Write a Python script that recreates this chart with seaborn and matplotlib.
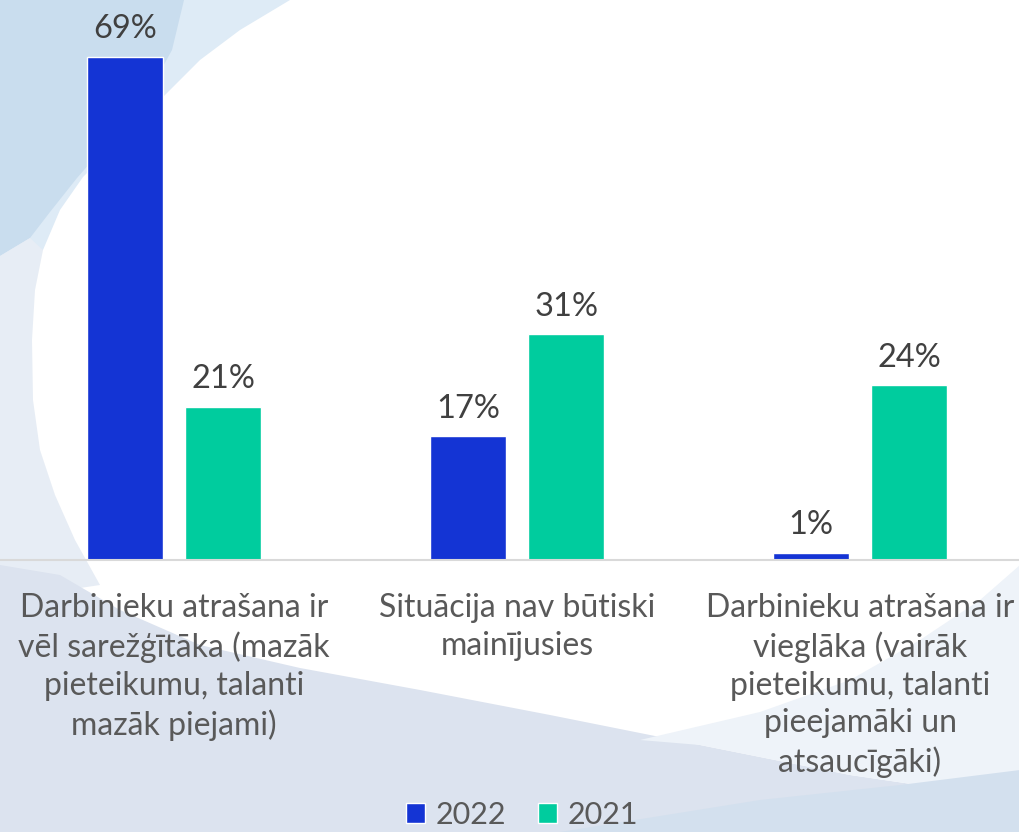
import pandas as pd
import matplotlib.pyplot as plt
import seaborn as sns
from matplotlib.patches import Polygon

# ---- data ----
categories = [
    "Darbinieku atrašana ir\nvēl sarežģītāka (mazāk\npieteikumu, talanti\nmazāk piejami)",
    "Situācija nav būtiski\nmainījusies",
    "Darbinieku atrašana ir\nvieglāka (vairāk\npieteikumu, talanti\npieejamāki un\natsaucīgāki)",
]
years = ["2022", "2021"]
values_2022 = [69, 17, 1]
values_2021 = [21, 31, 24]

colors = {"2022": "#1434D4", "2021": "#00CC9E"}
W, H = 1020, 832

df = pd.DataFrame({
    "Kategorija": categories * 2,
    "Gads": [years[0]] * 3 + [years[1]] * 3,
    "Vertiba": values_2022 + values_2021,
})

sns.set_style("white")
plt.rcParams["font.family"] = ["Lato", "DejaVu Sans"]

fig = plt.figure(figsize=(W / 100, H / 100), dpi=100)
fig.patch.set_facecolor("white")


def px(points):
    # pixel coords (top-left origin) -> figure fraction
    return [(x / W, 1 - y / H) for x, y in points]


# decorative background swooshes (pixel coords)
bg_shapes = [
    # pale band at the top left
    ("#DEEBF6", [(0, 0), (290, 0), (240, 30), (200, 60), (165, 95), (130, 130), (100, 160),
                 (83, 177), (60, 210), (43, 250), (0, 260)]),
    # darker top-left corner
    ("#C9DDEE", [(0, 0), (184, 0), (172, 50), (150, 90), (112, 138), (77, 178),
                 (50, 212), (30, 238), (0, 256)]),
    # grey-blue crescent on the left edge
    ("#E7EDF5", [(0, 256), (30, 238), (43, 250), (35, 290), (32, 340), (33, 400),
                 (40, 450), (55, 495), (75, 540), (100, 585), (0, 600)]),
    # lower band
    ("#DCE3EF", [(0, 565), (60, 575), (120, 610), (200, 645), (300, 668), (420, 690),
                 (550, 715), (700, 745), (850, 775), (1020, 800), (1020, 832), (0, 832)]),
    # pale sweep at the lower right
    ("#EEF3F9", [(640, 740), (760, 712), (850, 680), (920, 640), (980, 600), (1020, 565),
                 (1020, 800), (850, 775), (700, 745)]),
    ("#D3E0EE", [(560, 832), (760, 800), (900, 785), (1020, 770), (1020, 832)]),
]
for col, pts in bg_shapes:
    fig.patches.append(Polygon(px(pts), closed=True, transform=fig.transFigure,
                               facecolor=col, edgecolor="none", zorder=-10))

ax = fig.add_axes([0, (H - 560) / H, 1, 560 / H])
ax.patch.set_alpha(0)

sns.barplot(data=df, x="Kategorija", y="Vertiba", hue="Gads", hue_order=years,
            palette=colors, width=0.572, gap=0.225, saturation=1, ax=ax)

ax.set_xlim(-174 / 343, (1020 - 174) / 343)
ax.set_ylim(0, 560 / 7.29)

for cont in ax.containers:
    ax.bar_label(cont, labels=[f"{v:.0f}%" for v in cont.datavalues],
                 padding=9, fontsize=23.5, color="#404040")

ax.set_xlabel("")
ax.set_ylabel("")
ax.set_yticks([])
ax.tick_params(axis="x", length=0, pad=24, labelsize=23, labelcolor="#595959")
for lab in ax.get_xticklabels():
    lab.set_linespacing(1.32)
sns.despine(ax=ax, left=True)
ax.spines["bottom"].set_color("#D9D9D9")
ax.spines["bottom"].set_linewidth(1.5)

handles, labels = ax.get_legend_handles_labels()
ax.get_legend().remove()
fig.legend(handles, labels, loc="center", bbox_to_anchor=(522 / W, 1 - 815 / H),
           ncol=2, frameon=False, fontsize=22, labelcolor="#595959",
           handlelength=0.62, handleheight=0.62, handletextpad=0.35, columnspacing=1.05,
           borderpad=0.1)

fig.savefig("out.png", dpi=100)
